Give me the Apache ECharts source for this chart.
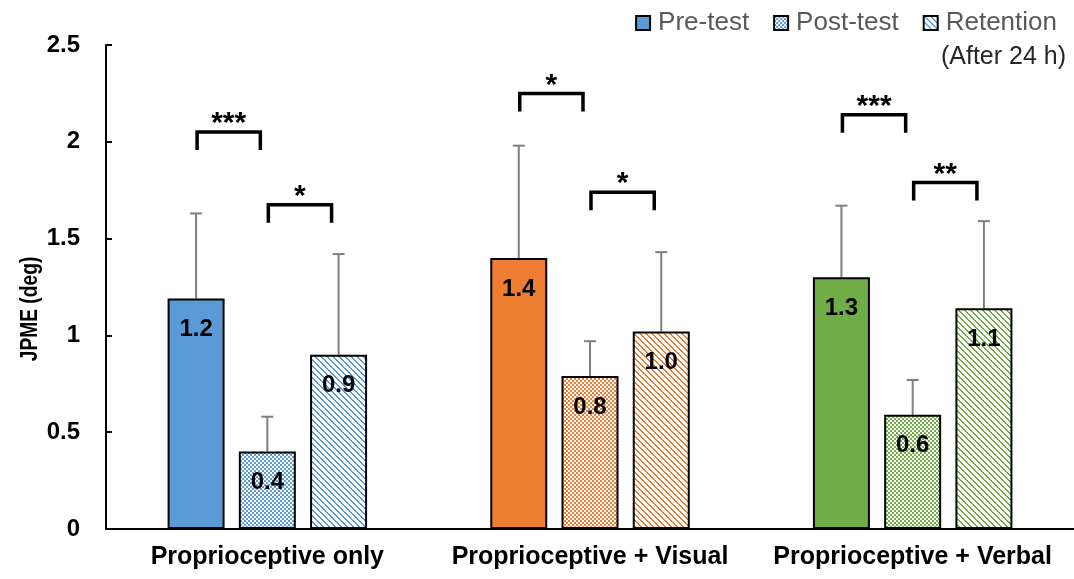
<!DOCTYPE html>
<html>
<head>
<meta charset="utf-8">
<script src="https://cdn.jsdelivr.net/npm/echarts@6/dist/echarts.min.js"></script>
<style>
  html, body { margin: 0; padding: 0; background: #fff; }
  #chart { width: 1074px; height: 579px; }
</style>
</head>
<body>
<div id="chart"></div>
<script>
// Joint position matching error by feedback condition and test phase
const categories = ['Proprioceptive only', 'Proprioceptive + Visual', 'Proprioceptive + Verbal'];
const seriesNames = ['Pre-test', 'Post-test', 'Retention'];
const preTest   = [1.19, 1.40, 1.30];
const postTest  = [0.40, 0.79, 0.59];
const retention = [0.90, 1.02, 1.14];
const preSD     = [0.44, 0.58, 0.37];
const postSD    = [0.18, 0.18, 0.18];
const retSD     = [0.52, 0.41, 0.45];
// significance brackets: [group, fromBar, toBar, level, stars]
const brackets = [
  [0, 0, 1, 2.05, '***'],
  [0, 1, 2, 1.675, '*'],
  [1, 0, 1, 2.25, '*'],
  [1, 1, 2, 1.74, '*'],
  [2, 0, 1, 2.14, '***'],
  [2, 1, 2, 1.79, '**']
];

const groupColors = ['#5B9BD5', '#ED7D31', '#70AD47'];
const FONT = '"Liberation Sans", Arial, sans-serif';
const BAR_W = 57;
const BAR_GAP = 0.25;
const PITCH = BAR_W * (1 + BAR_GAP);

// small checker tile
function checker(color) {
  const c = document.createElement('canvas');
  c.width = 4; c.height = 4;
  const ctx = c.getContext('2d');
  ctx.fillStyle = '#fff'; ctx.fillRect(0, 0, 4, 4);
  ctx.fillStyle = color;
  ctx.fillRect(0, 0, 2, 2);
  ctx.fillRect(2, 2, 2, 2);
  return { image: c, repeat: 'repeat' };
}
// downward diagonal stripe tile
function stripes(color) {
  const n = 6;
  const c = document.createElement('canvas');
  c.width = n; c.height = n;
  const ctx = c.getContext('2d');
  ctx.fillStyle = '#fff'; ctx.fillRect(0, 0, n, n);
  ctx.fillStyle = color;
  for (let y = 0; y < n; y++) {
    ctx.fillRect(y % n, y, 1, 1);
    ctx.fillRect((y + 1) % n, y, 1, 1);
  }
  return { image: c, repeat: 'repeat' };
}

const fills = [
  groupColors.map(c => c),
  groupColors.map(checker),
  groupColors.map(stripes)
];
const values = [preTest, postTest, retention];
const sds = [preSD, postSD, retSD];

const labelStyle = {
  show: true,
  position: 'insideTop',
  distance: 19,
  color: '#000',
  fontFamily: FONT,
  fontWeight: 'bold',
  fontSize: 24,
  formatter: p => Number(p.value).toFixed(1)
};

const barSeries = seriesNames.map((name, s) => ({
  name: name,
  type: 'bar',
  barWidth: BAR_W,
  barGap: (BAR_GAP * 100) + '%',
  z: 3,
  itemStyle: { color: fills[s][0], borderColor: '#000', borderWidth: 2 },
  label: labelStyle,
  data: values[s].map((v, g) => ({ value: v, itemStyle: { color: fills[s][g] } }))
}));

const errData = [];
for (let s = 0; s < 3; s++) {
  for (let g = 0; g < 3; g++) errData.push([g, s, values[s][g], sds[s][g]]);
}

const errorSeries = {
  type: 'custom',
  z: 2,
  silent: true,
  encode: { x: 0, y: 2 },
  data: errData,
  renderItem: (params, api) => {
    const g = api.value(0), s = api.value(1), m = api.value(2), sd = api.value(3);
    const base = api.coord([g, m]);
    const top = api.coord([g, m + sd]);
    const x = base[0] + (s - 1) * PITCH;
    const st = { stroke: '#7F7F7F', lineWidth: 2 };
    return {
      type: 'group',
      children: [
        { type: 'line', shape: { x1: x, y1: base[1], x2: x, y2: top[1] }, style: st },
        { type: 'line', shape: { x1: x - 6, y1: top[1], x2: x + 6, y2: top[1] }, style: st }
      ]
    };
  }
};

const bracketSeries = {
  type: 'custom',
  z: 4,
  silent: true,
  encode: { x: 0, y: 3 },
  data: brackets,
  renderItem: (params, api) => {
    const g = api.value(0), a = api.value(1), b = api.value(2), lv = api.value(3);
    const stars = brackets[params.dataIndex][4];
    const c = api.coord([g, lv]);
    const x1 = c[0] + (a - 1) * PITCH + 1;
    const x2 = c[0] + (b - 1) * PITCH - 7;
    const y = c[1];
    return {
      type: 'group',
      children: [
        {
          type: 'polyline',
          shape: { points: [[x1, y + 18], [x1, y], [x2, y], [x2, y + 18]] },
          style: { stroke: '#000', lineWidth: 3.5, fill: null, lineJoin: 'miter' }
        },
        {
          type: 'text',
          style: {
            x: (x1 + x2) / 2, y: y + 7,
            text: stars,
            textAlign: 'center', textVerticalAlign: 'bottom',
            fontFamily: FONT, fontWeight: 'bold', fontSize: 30, fill: '#000'
          }
        }
      ]
    };
  }
};

const chart = echarts.init(document.getElementById('chart'), null, { renderer: 'canvas' });
chart.setOption({
  animation: false,
  backgroundColor: '#fff',
  grid: { left: 106, right: 0, top: 45, bottom: 50, containLabel: false },
  legend: {
    data: seriesNames,
    right: 12,
    top: 5,
    itemWidth: 14,
    itemHeight: 14,
    itemGap: 24,
    icon: 'rect',
    itemStyle: { borderColor: '#000', borderWidth: 2 },
    textStyle: { color: '#595959', fontFamily: FONT, fontSize: 26, padding: [0, 0, 0, 3] }
  },
  graphic: [
    {
      type: 'text', right: 8, top: 45,
      style: { text: '(After 24 h)', fontFamily: FONT, fontSize: 25, fill: '#262626' }
    },
    {
      // axis title, set in a slightly condensed face
      type: 'text', x: 30, y: 309, rotation: Math.PI / 2, scaleX: 0.8,
      style: {
        text: 'JPME (deg)', fontFamily: FONT, fontWeight: 'bold', fontSize: 24, fill: '#000',
        textAlign: 'center', textVerticalAlign: 'middle'
      }
    }
  ],
  xAxis: {
    type: 'category',
    data: categories,
    axisLine: { lineStyle: { color: '#000', width: 2 } },
    axisTick: { show: false },
    axisLabel: {
      interval: 0, hideOverlap: false,
      color: '#000', fontFamily: FONT, fontWeight: 'bold', fontSize: 25, margin: 16
    }
  },
  yAxis: {
    type: 'value',
    min: 0, max: 2.5, interval: 0.5,
    axisLine: { show: true, lineStyle: { color: '#000', width: 2 } },
    axisTick: { show: true, inside: true, length: 6, lineStyle: { color: '#000', width: 2 } },
    splitLine: { show: false },
    axisLabel: { color: '#000', fontFamily: FONT, fontWeight: 'bold', fontSize: 24, margin: 26 }
  },
  series: [errorSeries, ...barSeries, bracketSeries]
});
</script>
</body>
</html>
